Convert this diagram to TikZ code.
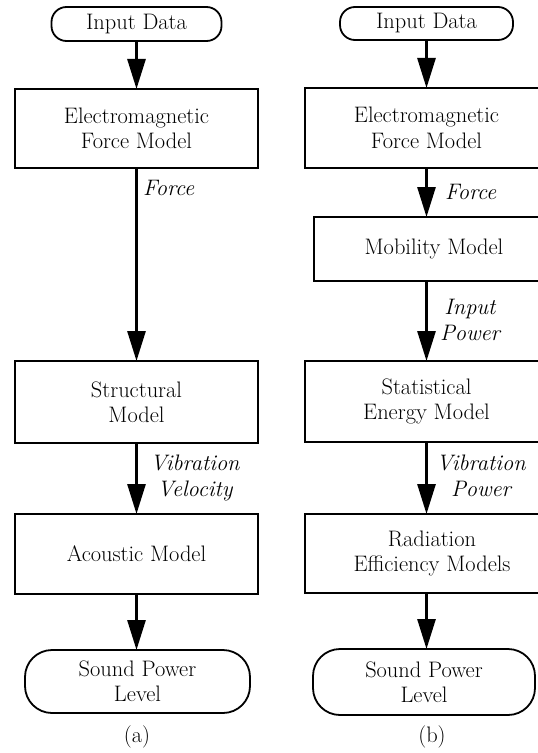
\documentclass[tikz,border=0pt]{standalone}
\usetikzlibrary{arrows.meta}
\begin{document}
\begin{tikzpicture}[x=1bp,y=-1bp,
  box/.style={draw, line width=1.8bp, inner sep=0pt, outer sep=0pt, align=center,
    font=\fontsize{22.5}{25.5}\selectfont},
  term/.style={box, rounded corners=#1},
  flow/.style={line width=2.8bp, -{Triangle[length=30bp,width=18bp]}},
  lbl/.style={inner sep=0pt, align=center, font=\fontsize{22.5}{26.5}\selectfont\itshape},
  subcap/.style={inner sep=0pt, font=\fontsize{22.5}{25.5}\selectfont}]
\useasboundingbox (0,0) rectangle (538,753);
\clip (0,0) rectangle (538,753);
% (a)
\node[term=15bp, minimum width=170bp, minimum height=34bp] (in1) at (136.5,24) {Input Data};
\node[box, minimum width=243bp, minimum height=79bp] (em1) at (136.5,128.5) {Electromagnetic\\Force Model};
\node[box, minimum width=243bp, minimum height=82bp] (st1) at (136.5,402) {Structural\\Model};
\node[box, minimum width=243bp, minimum height=80bp] (ac1) at (136.5,554) {Acoustic Model};
\node[term=27bp, minimum width=225bp, minimum height=63bp] (spl1) at (137.5,681.5) {Sound Power\\Level};
\node[subcap] (capa) at (137,737) {(a)};
\draw[flow] (in1.south) -- (em1.north);
\draw[flow] (em1.south) -- (st1.north);
\draw[flow] (st1.south) -- (ac1.north);
\draw[flow] (ac1.south) -- (spl1.north -| ac1.south);
\node[lbl, anchor=west] (f1) at (143,188) {Force};
\node[lbl] (vv1) at (195,478) {Vibration\\Velocity};
% (b)
\node[term=15bp, minimum width=173bp, minimum height=33bp] (in2) at (426.5,23.5) {Input Data};
\node[box, minimum width=243bp, minimum height=80bp] (em2) at (426.5,128) {Electromagnetic\\Force Model};
\node[box, minimum width=240bp, minimum height=64bp] (mob) at (434,249) {Mobility Model};
\node[box, minimum width=243bp, minimum height=81bp] (se) at (426.5,401.5) {Statistical\\Energy Model};
\node[box, minimum width=254bp, minimum height=79bp] (rad) at (432,553.5) {Radiation\\Efficiency Models};
\node[term=27bp, minimum width=222bp, minimum height=66bp] (spl2) at (424,682) {Sound Power\\Level};
\node[subcap] (capb) at (432,737) {(b)};
\draw[flow] (in2.south -| em2.north) -- (em2.north);
\draw[flow] (em2.south) -- (em2.south |- mob.north);
\draw[flow] (em2.south |- mob.south) -- (se.north);
\draw[flow] (se.south) -- (se.south |- rad.north);
\draw[flow] (se.south |- rad.south) -- (se.south |- spl2.north);
\node[lbl, anchor=west] (f2) at (445,192) {Force};
\node[lbl] (ip) at (470,320) {Input\\Power};
\node[lbl] (vp) at (481,476) {Vibration\\Power};
\end{tikzpicture}
\end{document}
